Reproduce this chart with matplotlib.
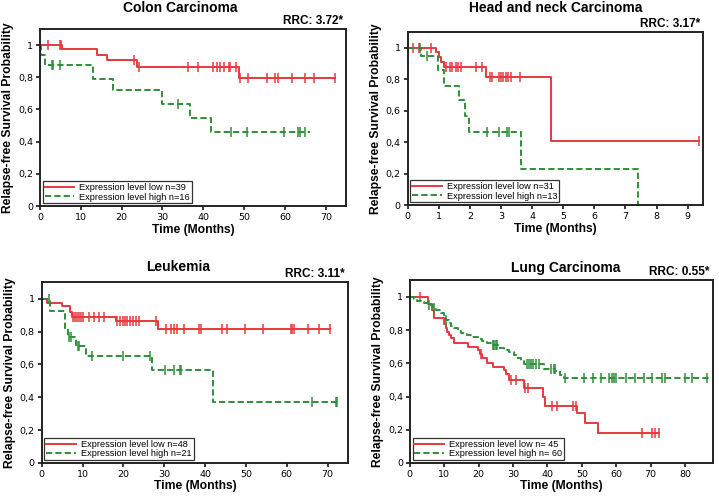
import numpy as np
import matplotlib
matplotlib.use("Agg")
import matplotlib.pyplot as plt

# Kaplan-Meier curves: step times, survival after step, end of follow-up, censor times
colon_low_t = [0, 5.4, 14.0, 16.4, 23.8, 48.7]
colon_low_s = [1.0, 0.975, 0.94, 0.907, 0.865, 0.797]
colon_low_end = 72.2
colon_low_cens = [2.0, 4.8, 5.2, 23.0, 24.2, 36.3, 38.8, 42.4, 43.3, 44.1, 45.0, 46.2, 46.6,
                  48.0, 49.0, 50.9, 55.5, 57.6, 58.4, 61.8, 65.0, 67.0, 72.2]
colon_high_t = [0, 0.3, 1.3, 13.0, 18.0, 30.0, 36.7, 41.8]
colon_high_s = [1.0, 0.938, 0.875, 0.79, 0.718, 0.637, 0.546, 0.46]
colon_high_end = 66.0
colon_high_cens = [3.0, 3.3, 4.8, 33.7, 46.8, 50.7, 59.7, 63.2, 63.7, 65.0]

hn_low_t = [0, 0.92, 1.02, 1.08, 1.17, 2.52, 4.6]
hn_low_s = [1.0, 0.97, 0.94, 0.91, 0.88, 0.815, 0.405]
hn_low_end = 9.35
hn_low_cens = [0.16, 0.37, 0.76, 1.24, 1.35, 1.42, 1.56, 1.62, 1.7, 2.2, 2.38, 2.65, 2.7,
               2.94, 3.0, 3.08, 3.15, 3.23, 3.31, 3.6, 9.35]
hn_high_t = [0, 0.42, 0.96, 1.16, 1.65, 1.84, 1.97, 3.65, 7.4]
hn_high_s = [1.0, 0.945, 0.855, 0.754, 0.665, 0.565, 0.463, 0.23, 0.0]
hn_high_end = 7.4
hn_high_cens = [0.4, 0.62, 2.55, 2.95, 3.18, 3.26]

leuk_low_t = [0, 1.2, 4.9, 6.9, 7.3, 18.3, 28.5]
leuk_low_s = [1.0, 0.976, 0.955, 0.92, 0.888, 0.867, 0.815]
leuk_low_end = 70.5
leuk_low_cens = [7.7, 8.2, 8.7, 9.2, 9.6, 10.1, 11.6, 12.9, 14.1, 15.3, 18.5, 19.2, 19.8,
                 20.3, 21.0, 21.7, 22.4, 23.0, 23.8, 28.1, 30.5, 31.7, 32.5, 33.1, 34.8,
                 38.6, 39.0, 44.2, 45.4, 49.9, 54.1, 61.0, 61.4, 61.8, 65.1, 67.8, 70.5]
leuk_high_t = [0, 2.0, 5.6, 6.5, 8.5, 10.8, 26.9, 41.9]
leuk_high_s = [1.0, 0.924, 0.816, 0.767, 0.714, 0.653, 0.567, 0.371]
leuk_high_end = 72.5
leuk_high_cens = [1.9, 6.8, 7.1, 8.9, 9.2, 12.2, 19.9, 26.6, 30.1, 32.3, 33.8, 34.2,
                  66.3, 72.0, 72.4]

lung_low_t = [0, 5.2, 6.4, 6.9, 9.8, 10.4, 10.8, 11.4, 11.9, 12.9, 16.8, 19.9, 20.4, 21.1,
              22.4, 24.2, 27.4, 28.1, 28.8, 33.3, 38.7, 39.4, 48.7, 51.0, 54.7]
lung_low_s = [1.0, 0.955, 0.92, 0.87, 0.835, 0.815, 0.79, 0.77, 0.75, 0.725, 0.70, 0.68,
              0.655, 0.63, 0.60, 0.58, 0.56, 0.535, 0.50, 0.45, 0.40, 0.346, 0.30, 0.24, 0.18]
lung_low_end = 72.3
lung_low_cens = [3.0, 20.8, 29.5, 30.8, 33.6, 34.3, 41.3, 42.9, 47.5, 48.2, 67.5, 70.4,
                 71.3, 72.3]
lung_high_t = [0, 1.3, 2.1, 3.3, 4.0, 5.2, 6.6, 7.6, 9.1, 9.8, 10.5, 11.5, 12.1, 12.9, 13.9,
               14.8, 16.6, 18.2, 19.7, 21.1, 22.4, 23.5, 25.5, 27.4, 28.8, 30.2, 31.2, 32.2,
               33.1, 38.9, 42.3, 43.7, 44.7]
lung_high_s = [1.0, 0.99, 0.976, 0.966, 0.96, 0.95, 0.934, 0.92, 0.9, 0.88, 0.86, 0.84,
               0.825, 0.81, 0.795, 0.782, 0.772, 0.758, 0.746, 0.734, 0.724, 0.712, 0.692,
               0.68, 0.67, 0.65, 0.63, 0.612, 0.594, 0.568, 0.552, 0.532, 0.512]
lung_high_end = 87.0
lung_high_cens = [5.5, 7.0, 10.5, 24.1, 24.6, 25.0, 25.4, 34.2, 34.7, 35.2, 35.8, 36.8,
                  37.5, 41.0, 41.8, 42.1, 45.0, 50.6, 53.3, 55.6, 57.8, 58.8, 59.3, 59.8,
                  62.7, 65.5, 68.0, 70.4, 73.3, 74.2, 80.0, 82.0, 86.5]

titles = ["Colon Carcinoma", "Head and neck Carcinoma", "Leukemia", "Lung Carcinoma"]
rrc = ["RRC: 3.72*", "RRC: 3.17*", "RRC: 3.11*", "RRC: 0.55*"]
n_low = ["n=39", "n=31", "n=48", "n= 45"]
n_high = ["n=16", "n=13", "n=21", "n= 60"]

RED = "#e8383d"
GREEN = "#2f8f3a"


def km(ax, t, s, end, cens, color, ls, label):
    t = list(t) + [end]
    s = list(s) + [s[-1]]
    ax.step(t, s, where="post", color=color, linestyle=ls, lw=1.4, label=label)
    idx = np.searchsorted(t, cens, side="right") - 1
    ys = np.array(s)[np.clip(idx, 0, len(s) - 1)]
    ax.plot(cens, ys, linestyle="none", marker="|", color=color, ms=6.5, mew=1.1)


fig = plt.figure(figsize=(7.19, 4.98), dpi=100)
boxes = [[0.0556, 0.586, 0.426, 0.356],
         [0.567, 0.588, 0.411, 0.348],
         [0.058, 0.0703, 0.426, 0.363],
         [0.570, 0.0703, 0.421, 0.367]]
xlims = [75, 9.5, 75, 88]
xticks = [range(0, 71, 10), range(0, 10), range(0, 71, 10), range(0, 81, 10)]
title_x = [0.457, 0.50, 0.445, 0.515]
title_pad = [12, 14, 8, 6]

data = [
    (colon_low_t, colon_low_s, colon_low_end, colon_low_cens,
     colon_high_t, colon_high_s, colon_high_end, colon_high_cens),
    (hn_low_t, hn_low_s, hn_low_end, hn_low_cens,
     hn_high_t, hn_high_s, hn_high_end, hn_high_cens),
    (leuk_low_t, leuk_low_s, leuk_low_end, leuk_low_cens,
     leuk_high_t, leuk_high_s, leuk_high_end, leuk_high_cens),
    (lung_low_t, lung_low_s, lung_low_end, lung_low_cens,
     lung_high_t, lung_high_s, lung_high_end, lung_high_cens),
]

for i in range(4):
    ax = fig.add_axes(boxes[i])
    lt, ls_, le, lc, ht, hs, he, hc = data[i]
    km(ax, lt, ls_, le, lc, RED, "-", "Expression level low " + n_low[i])
    km(ax, ht, hs, he, hc, GREEN, (0, (3.2, 1.6)), "Expression level high " + n_high[i])

    ax.set_xlim(0, xlims[i])
    ax.set_ylim(0, 1.1)
    ax.set_xticks(list(xticks[i]))
    ax.set_yticks([0, 0.2, 0.4, 0.6, 0.8, 1.0])
    ax.set_yticklabels(["0", "0,2", "0,4", "0,6", "0,8", "1"])
    ax.tick_params(direction="out", length=3, width=1.1, labelsize=6.8, pad=2)
    for sp in ax.spines.values():
        sp.set_linewidth(1.4)
        sp.set_color("#222222")

    ax.set_title(titles[i], fontsize=10, fontweight="bold", family="Liberation Sans",
                 x=title_x[i], pad=title_pad[i])
    ax.text(0.99, 1.01, rrc[i], transform=ax.transAxes, ha="right", va="bottom",
            fontsize=8.5, fontweight="bold", family="Liberation Sans")
    ax.set_xlabel("Time (Months)", fontsize=8.7, fontweight="bold",
                  family="Liberation Sans", labelpad=1)
    ax.set_ylabel("Relapse-free Survival Probability", fontsize=8.7, fontweight="bold",
                  family="Liberation Sans", labelpad=3)

    leg = ax.legend(loc="lower left", prop={"family": "Liberation Sans", "size": 6.6},
                    frameon=True, fancybox=False, handlelength=3.2, borderpad=0.2,
                    labelspacing=0.05, borderaxespad=0.3, handletextpad=0.6)
    leg.get_frame().set_edgecolor("black")
    leg.get_frame().set_linewidth(0.9)

fig.savefig("out.png", dpi=100)
